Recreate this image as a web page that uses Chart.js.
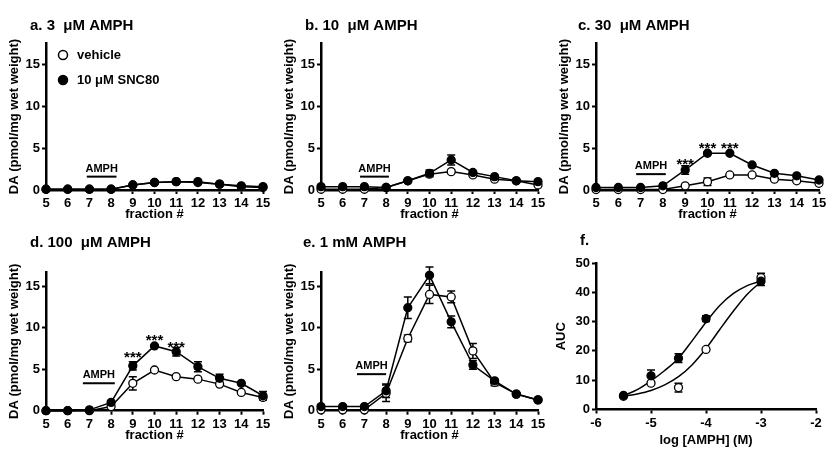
<!DOCTYPE html>
<html>
<head>
<meta charset="utf-8">
<script src="https://cdn.jsdelivr.net/npm/chart.js@4"></script>
<style>
  body { margin: 0; background: #fff; }
  #fig { position: relative; width: 831px; height: 456px; }
  #fig canvas { position: absolute; }
</style>
</head>
<body>
<div id="fig">
  <canvas id="panelA" width="275" height="228" style="left:0;top:0"></canvas>
  <canvas id="panelB" width="275" height="228" style="left:275px;top:0"></canvas>
  <canvas id="panelC" width="281" height="228" style="left:550px;top:0"></canvas>
  <canvas id="panelD" width="275" height="228" style="left:0;top:228px"></canvas>
  <canvas id="panelE" width="275" height="228" style="left:275px;top:228px"></canvas>
  <canvas id="panelF" width="281" height="228" style="left:550px;top:228px"></canvas>
</div>
<script>
// fractions and tick values
const fractions = [5, 6, 7, 8, 9, 10, 11, 12, 13, 14, 15];
const fractionTicks = [5, 6, 7, 8, 9, 10, 11, 12, 13, 14, 15];
const daTicks = [0, 5, 10, 15];

// a. 3 uM AMPH
const vehA = [0.1, 0.1, 0.1, 0.1, 0.6, 0.9, 1.0, 0.9, 0.7, 0.4, 0.3];
const sncA = [0.1, 0.1, 0.1, 0.1, 0.6, 0.9, 1.0, 1.0, 0.7, 0.5, 0.4];
const vehAErr = [0, 0, 0, 0, 0, 0, 0, 0, 0, 0, 0];
const sncAErr = [0, 0, 0, 0, 0, 0, 0, 0, 0, 0, 0];

// b. 10 uM AMPH
const vehB = [0.1, 0.1, 0.1, 0.3, 1.1, 1.9, 2.2, 1.8, 1.3, 1.1, 0.6];
const sncB = [0.4, 0.4, 0.4, 0.3, 1.1, 2.0, 3.6, 2.1, 1.6, 1.1, 1.0];
const vehBErr = [0, 0, 0, 0, 0, 0.2, 0.2, 0, 0, 0, 0];
const sncBErr = [0, 0, 0, 0, 0, 0.4, 0.6, 0, 0, 0, 0];

// c. 30 uM AMPH
const vehC = [0.05, 0.05, 0.05, 0.05, 0.5, 1.0, 1.8, 1.8, 1.3, 1.1, 0.8];
const sncC = [0.3, 0.3, 0.3, 0.5, 2.4, 4.4, 4.4, 3.0, 2.0, 1.7, 1.2];
const vehCErr = [0, 0, 0, 0, 0, 0.45, 0, 0, 0, 0, 0];
const sncCErr = [0, 0, 0, 0, 0.5, 0, 0, 0, 0, 0, 0];

// d. 100 uM AMPH
const vehD = [0, 0, 0, 0.5, 3.3, 4.9, 4.1, 3.8, 3.2, 2.2, 1.6];
const sncD = [0, 0, 0.1, 1.0, 5.4, 7.8, 7.1, 5.3, 3.9, 3.3, 1.8];
const vehDErr = [0, 0, 0, 0, 0.8, 0, 0, 0, 0, 0, 0.3];
const sncDErr = [0, 0, 0, 0, 0.5, 0, 0.5, 0.6, 0.5, 0, 0.5];

// e. 1 mM AMPH
const vehE = [0.1, 0.1, 0.1, 2.1, 8.7, 14.0, 13.7, 7.2, 3.4, 2.0, 1.3];
const sncE = [0.5, 0.5, 0.5, 2.4, 12.4, 16.3, 10.7, 5.5, 3.6, 2.0, 1.3];
const vehEErr = [0, 0, 0, 1.0, 0.4, 1.1, 0.7, 0.9, 0.4, 0, 0];
const sncEErr = [0, 0, 0, 0.8, 1.3, 1.0, 0.7, 0.5, 0, 0, 0];

// f. AUC vs log dose
const logDose = [-5.5, -5, -4.5, -4, -3];
const aucVeh = [4.5, 9.0, 7.5, 20.5, 45.0];
const aucSnc = [4.8, 11.5, 17.5, 31.0, 43.8];
const aucVehErr = [0, 0, 1.5, 0, 1.5];
const aucSncErr = [0, 2.0, 1.5, 1.0, 1.5];
const logTicks = [-6, -5, -4, -3, -2];
const aucTicks = [0, 10, 20, 30, 40, 50];
// fitted curves
const curveX = [-5.5, -5.25, -5, -4.75, -4.5, -4.25, -4, -3.75, -3.5, -3.25, -3];
const fitSnc = [4.7, 6.8, 9.8, 13.3, 17.5, 23.5, 29.8, 35.5, 39.6, 42.3, 43.8];
const fitVeh = [4.5, 5.3, 6.5, 8.4, 11.2, 15.3, 20.8, 27.3, 33.6, 39.3, 43.6];

const FONT = '"Liberation Sans", Arial, Helvetica, sans-serif';
Chart.defaults.font.family = FONT;
Chart.defaults.color = '#000';

const panelPlugin = {
    id: 'panel',
    beforeDatasetsDraw(chart) {
        const ctx = chart.ctx;
        const ys = chart.scales.y;
        ctx.save();
        ctx.strokeStyle = '#000';
        ctx.lineWidth = 1.5;
        chart.data.datasets.forEach((ds, i) => {
            if (!ds.errorBars) return;
            const meta = chart.getDatasetMeta(i);
            ds.errorBars.forEach((e, j) => {
                if (!e) return;
                const x = meta.data[j].x;
                const v = ds.data[j].y;
                const top = ys.getPixelForValue(v + e);
                const bot = ys.getPixelForValue(v - e);
                ctx.beginPath();
                ctx.moveTo(x, top); ctx.lineTo(x, bot);
                ctx.moveTo(x - 4, top); ctx.lineTo(x + 4, top);
                ctx.moveTo(x - 4, bot); ctx.lineTo(x + 4, bot);
                ctx.stroke();
            });
        });
        ctx.restore();
    },
    afterDatasetsDraw(chart, args, opts) {
        const ctx = chart.ctx;
        const xs = chart.scales.x, ys = chart.scales.y;
        ctx.save();
        ctx.fillStyle = '#000';
        ctx.strokeStyle = '#000';
        // panel title
        ctx.font = 'bold 15px ' + FONT;
        ctx.textAlign = 'left';
        ctx.textBaseline = 'middle';
        ctx.fillText(opts.title, opts.titleX, opts.titleY);
        // AMPH bar
        if (opts.amph) {
            const x0 = xs.getPixelForValue(opts.amph[0]);
            const x1 = xs.getPixelForValue(opts.amph[1]);
            const y = ys.getPixelForValue(opts.amph[2]);
            ctx.lineWidth = 2;
            ctx.beginPath();
            ctx.moveTo(x0, y); ctx.lineTo(x1, y);
            ctx.stroke();
            ctx.font = 'bold 11px ' + FONT;
            ctx.textAlign = 'center';
            ctx.textBaseline = 'alphabetic';
            ctx.fillText('AMPH', (x0 + x1) / 2, y - 5);
        }
        // significance stars
        if (opts.stars) {
            ctx.font = 'bold 15px ' + FONT;
            ctx.textAlign = 'center';
            ctx.textBaseline = 'alphabetic';
            opts.stars.x.forEach((sx, k) => {
                ctx.fillText('***', xs.getPixelForValue(sx), ys.getPixelForValue(opts.stars.y[k]) + 7);
            });
        }
        // legend
        if (opts.legend) {
            ctx.font = 'bold 13px ' + FONT;
            ctx.textAlign = 'left';
            ctx.textBaseline = 'middle';
            ctx.lineWidth = 1.5;
            ctx.beginPath();
            ctx.arc(63, 55, 4.5, 0, Math.PI * 2);
            ctx.fillStyle = '#fff'; ctx.fill(); ctx.stroke();
            ctx.fillStyle = '#000';
            ctx.fillText('vehicle', 77, 55);
            ctx.beginPath();
            ctx.arc(63, 80, 4.5, 0, Math.PI * 2);
            ctx.fill(); ctx.stroke();
            ctx.fillText('10 \u03bcM SNC80', 77, 80);
        }
        ctx.restore();
    }
};

function axisStyle() {
    return {
        ticks: { font: { size: 13, weight: 'bold' }, color: '#000', padding: 2, autoSkip: false, maxRotation: 0 },
        grid: { drawOnChartArea: false, drawTicks: true, tickLength: 4, tickWidth: 2, tickColor: '#000' },
        border: { color: '#000', width: 2.5 }
    };
}

function buildScales(o) {
    return {
        x: Object.assign(axisStyle(), {
            type: 'linear', min: o.xMin, max: o.xMax,
            afterBuildTicks: s => { s.ticks = o.xTicks.map(v => ({ value: v })); },
            afterFit: s => { s.height = o.xHeight; },
            title: { display: true, text: o.xTitle, font: { size: 13, weight: 'bold' }, color: '#000', padding: { top: 0, bottom: o.xTitlePad } }
        }),
        y: Object.assign(axisStyle(), {
            type: 'linear', min: 0, max: o.yMax,
            afterBuildTicks: s => { s.ticks = o.yTicks.map(v => ({ value: v })); },
            afterFit: s => { s.width = 46; },
            title: { display: true, text: o.yTitle, font: { size: 13, weight: 'bold' }, color: '#000', padding: { top: o.yTitlePad, bottom: 0 } }
        })
    };
}

function series(xv, yv, err, filled) {
    return {
        data: xv.map((x, i) => ({ x: x, y: yv[i] })),
        borderColor: '#000',
        borderWidth: 1.5,
        pointRadius: 4,
        pointBorderWidth: 1.3,
        pointBorderColor: '#000',
        pointBackgroundColor: filled ? '#000' : '#fff',
        tension: 0,
        clip: false,
        errorBars: err
    };
}

function fractionPanel(id, veh, snc, vehErr, sncErr, p) {
    const top = p.row === 0;
    new Chart(document.getElementById(id), {
        type: 'line',
        data: { datasets: [series(fractions, snc, sncErr, true), series(fractions, veh, vehErr, false)] },
        options: {
            responsive: false, animation: false, devicePixelRatio: 1,
            layout: { padding: { left: 0, right: 12, top: top ? 43 : 44, bottom: 0 } },
            scales: buildScales({
                xMin: 5, xMax: 15, xTicks: fractionTicks, xTitle: 'fraction #',
                xHeight: top ? 38 : 45.3, xTitlePad: top ? 6 : 12.5,
                yMax: top ? 17.6 : 16.7, yTicks: daTicks,
                yTitle: 'DA (pmol/mg wet weight)', yTitlePad: 7
            }),
            plugins: {
                legend: { display: false }, tooltip: { enabled: false },
                panel: {
                    title: p.title, titleX: p.titleX || 30, titleY: top ? 26 : 15,
                    amph: p.amph, stars: p.stars, legend: p.legend
                }
            }
        },
        plugins: [panelPlugin]
    });
}

fractionPanel('panelA', vehA, sncA, vehAErr, sncAErr,
    { row: 0, title: 'a. 3  \u03bcM AMPH', amph: [6.88, 8.25, 1.6], legend: true });
fractionPanel('panelB', vehB, sncB, vehBErr, sncBErr,
    { row: 0, title: 'b. 10  \u03bcM AMPH', amph: [6.8, 8.13, 1.6] });
fractionPanel('panelC', vehC, sncC, vehCErr, sncCErr,
    { row: 0, title: 'c. 30  \u03bcM AMPH', titleX: 28, amph: [6.8, 8.13, 1.9],
      stars: { x: [9, 10, 11], y: [3.35, 5.3, 5.3] } });
fractionPanel('panelD', vehD, sncD, vehDErr, sncDErr,
    { row: 1, title: 'd. 100  \u03bcM AMPH', amph: [6.7, 8.17, 3.3],
      stars: { x: [9, 10, 11], y: [6.75, 8.8, 7.9] } });
fractionPanel('panelE', vehE, sncE, vehEErr, sncEErr,
    { row: 1, title: 'e. 1 mM AMPH', titleX: 28, amph: [6.66, 8.0, 4.4] });

// f. dose-response
const curveStyle = (yv) => ({
    data: curveX.map((x, i) => ({ x: x, y: yv[i] })),
    borderColor: '#000', borderWidth: 1.5, pointRadius: 0,
    cubicInterpolationMode: 'monotone', clip: false
});
const pts = (yv, err, filled) => Object.assign(series(logDose, yv, err, filled), { showLine: false });

new Chart(document.getElementById('panelF'), {
    type: 'line',
    data: { datasets: [pts(aucSnc, aucSncErr, true), pts(aucVeh, aucVehErr, false), curveStyle(fitSnc), curveStyle(fitVeh)] },
    options: {
        responsive: false, animation: false, devicePixelRatio: 1,
        layout: { padding: { left: 0, right: 15, top: 35, bottom: 0 } },
        scales: buildScales({
            xMin: -6, xMax: -2, xTicks: logTicks, xTitle: 'log [AMPH] (M)',
            xHeight: 46.5, xTitlePad: 8,
            yMax: 50, yTicks: aucTicks, yTitle: 'AUC', yTitlePad: 4
        }),
        plugins: {
            legend: { display: false }, tooltip: { enabled: false },
            panel: { title: 'f.', titleX: 30, titleY: 13 }
        }
    },
    plugins: [panelPlugin]
});
</script>
</body>
</html>
